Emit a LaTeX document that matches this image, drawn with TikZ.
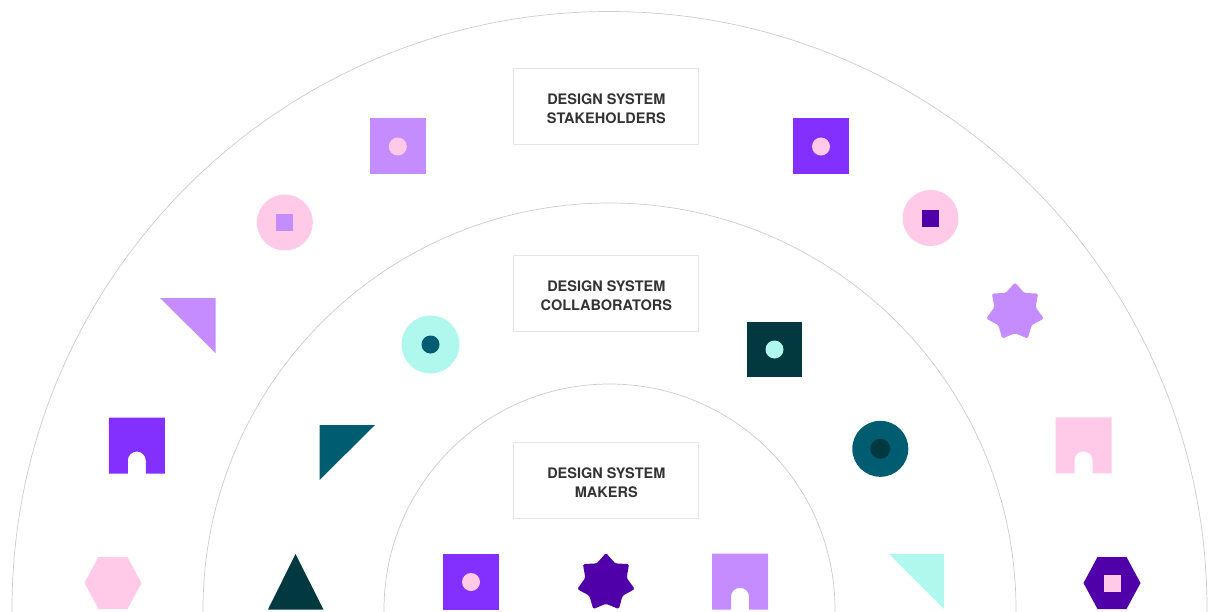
\documentclass[tikz,border=0pt]{standalone}
\usepackage{fontspec}
\setmainfont{TeX Gyre Heros}
\usetikzlibrary{shapes.geometric}
\definecolor{lilac}{HTML}{C48CFF}
\definecolor{violet}{HTML}{8330FF}
\definecolor{indigo}{HTML}{4F00A8}
\definecolor{blush}{HTML}{FFC9E8}
\definecolor{mint}{HTML}{B0F7EE}
\definecolor{teal}{HTML}{005C70}
\definecolor{pine}{HTML}{02383F}
\definecolor{ringline}{HTML}{CCCCCC}
\tikzset{
	ring/.style={ringline, line width=0.7pt},
	label/.style={draw=black!10, line width=0.7pt, minimum width=185pt, minimum height=76pt, align=center, text=black!80, font=\fontsize{14.5}{18.9}\selectfont\bfseries, execute at begin node={\rule{0pt}{35pt}}},
	tile/.style={rectangle, inner sep=0pt, minimum size=55.7pt},
	disc/.style={circle, inner sep=0pt, minimum size=56pt},
	dot/.style={circle, inner sep=0pt, minimum size=18pt},
	chip/.style={rectangle, inner sep=0pt, minimum size=17pt},
	burst/.style={star, star points=7, star point ratio=1.39, inner sep=0pt, minimum size=59pt, rounded corners=1.5pt},
	pics/hexa/.style={code={\fill[#1] (-28.5,0) -- (-14.5,-26) -- (14.5,-26) -- (28.5,0) -- (14.5,26) -- (-14.5,26) -- cycle;}},
	pics/gate/.style={code={\fill[#1] (-28,-28) -- (28,-28) -- (28,28) -- (9,28) -- (9,15) arc (0:-180:9) -- (-9,28) -- (-28,28) -- cycle;}}
}
\begin{document}
\begin{tikzpicture}[x=1pt, y=-1pt]
	\useasboundingbox (0,0) rectangle (1218,611);
	\draw[ring] (12,612) -- (12,609) arc (-180:0:597.5) -- (1207,612);
	\draw[ring] (203,612) -- (203,609.5) arc (-180:0:406.5) -- (1016,612);
	\draw[ring] (384,612) -- (384,609.5) arc (-180:0:225.5) -- (835,612);
	\node[label] (stakeholders) at (606.3,106) {DESIGN SYSTEM\\STAKEHOLDERS};
	\node[label] (collaborators) at (606.3,293) {DESIGN SYSTEM\\COLLABORATORS};
	\node[label] (makers) at (606.3,480) {DESIGN SYSTEM\\MAKERS};
	% outer band
	\node[tile, fill=lilac] (tileA) at (397.8,146) {};
	\node[dot, fill=blush] (dotA) at (397.8,146.5) {};
	\node[tile, fill=violet] (tileB) at (821,146) {};
	\node[dot, fill=blush] (dotB) at (821,146.5) {};
	\node[disc, fill=blush] (discA) at (284.8,222.5) {};
	\node[chip, fill=lilac] (chipA) at (284.8,222.5) {};
	\node[disc, fill=blush] (discB) at (930.5,218) {};
	\node[chip, fill=indigo] (chipB) at (930.5,218) {};
	\fill[lilac] (160,298) -- (215.5,298) -- (215.5,353) -- cycle;
	\node[burst, fill=lilac] (burstA) at (1015,312) {};
	\pic at (136.8,445.5) {gate=violet};
	\pic at (1083.5,445.3) {gate=blush};
	\pic at (113,583) {hexa=blush};
	\pic at (1112,583) {hexa=indigo};
	\node[chip, fill=blush] (chipC) at (1112,583) {};
	% middle band
	\node[disc, fill=mint, minimum size=58pt] (discC) at (430.5,344.5) {};
	\node[dot, fill=teal] (dotC) at (430.5,344.5) {};
	\node[tile, fill=pine] (tileC) at (774.5,349.5) {};
	\node[dot, fill=mint] (dotD) at (774.5,349.5) {};
	\node[disc, fill=teal] (discD) at (880.3,448.8) {};
	\node[dot, fill=pine, minimum size=20pt] (dotE) at (880.3,448.8) {};
	\fill[teal] (319.5,425) -- (375,425) -- (319.5,480) -- cycle;
	\fill[pine] (295.5,554) -- (323.5,609.5) -- (268,609.5) -- cycle;
	\fill[mint] (889,554) -- (944,554) -- (944,609) -- cycle;
	% inner band
	\node[tile, fill=violet] (tileD) at (471,581.7) {};
	\node[dot, fill=blush] (dotF) at (471,582) {};
	\node[burst, fill=indigo] (burstB) at (606,582.5) {};
	\pic at (740,581.7) {gate=lilac};
\end{tikzpicture}
\end{document}
